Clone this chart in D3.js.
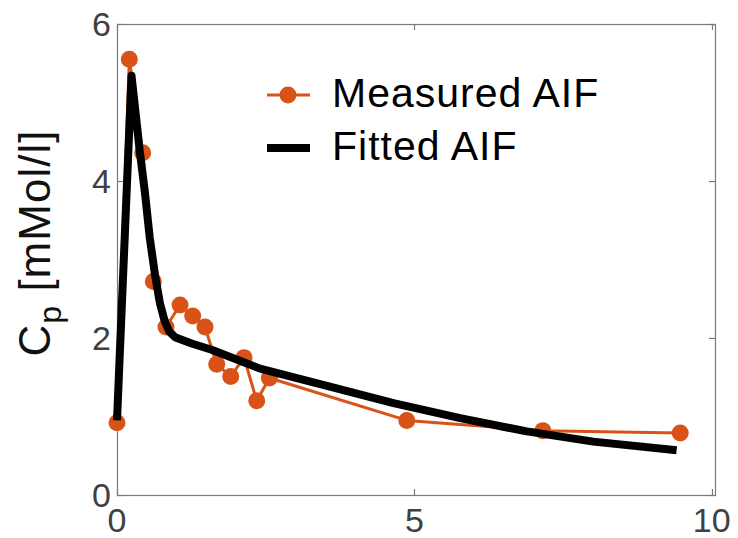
<!DOCTYPE html>
<html>
<head>
<meta charset="utf-8">
<script src="https://cdn.jsdelivr.net/npm/d3@7"></script>
<style>
  body { margin: 0; background: #fff; }
  svg { display: block; }
</style>
</head>
<body>
<script>
// measured arterial input function (time, concentration)
var measuredT = [0, 0.207, 0.432, 0.611, 0.824, 1.06, 1.273, 1.48, 1.677, 1.912, 2.136, 2.35, 2.562, 4.873, 7.16, 9.47];
var measuredC = [0.92, 5.55, 4.36, 2.72, 2.14, 2.42, 2.28, 2.14, 1.665, 1.51, 1.75, 1.20, 1.49, 0.95, 0.82, 0.79];

// fitted curve
var fittedT = [0, 0.244, 0.38, 0.47, 0.55, 0.64, 0.72, 0.80, 0.88, 0.975, 1.256, 1.59, 2.405, 3.53, 4.65, 5.77, 6.89, 8.01, 9.41];
var fittedC = [0.95, 5.34, 4.40, 3.85, 3.28, 2.80, 2.45, 2.22, 2.08, 2.01, 1.93, 1.85, 1.61, 1.39, 1.17, 0.98, 0.81, 0.68, 0.57];

var xTicks = [0, 5, 10];
var yTicks = [0, 2, 4, 6];
var legendLabels = ["Measured AIF", "Fitted AIF"];

var W = 738, H = 538;
var plotLeft = 117, plotRight = 715, plotTop = 24, plotBottom = 495;
var font = "'Liberation Sans', Arial, Helvetica, sans-serif";
var orange = "#D95319";
var axisColor = "#7a7a7a";
var tickText = "#404040";

var svg = d3.select("body").append("svg").attr("width", W).attr("height", H);

var x = d3.scaleLinear().domain([0, 10.055]).range([plotLeft, plotRight]);
var y = d3.scaleLinear().domain([0, 6]).range([plotBottom, plotTop]);

var measured = measuredT.map(function (t, i) { return {t: t, c: measuredC[i]}; });
var fitted = fittedT.map(function (t, i) { return {t: t, c: fittedC[i]}; });

// box
svg.append("rect")
    .attr("x", plotLeft + 0.5).attr("y", plotTop + 0.5)
    .attr("width", plotRight - plotLeft).attr("height", plotBottom - plotTop)
    .attr("fill", "none").attr("stroke", axisColor).attr("stroke-width", 1.2);

// ticks: bottom/left with labels, top/right mirrored, all pointing inward
var tickLen = 6;
var tk = svg.append("g").attr("stroke", axisColor).attr("stroke-width", 1.2);
xTicks.forEach(function (v) {
    var px = Math.round(x(v)) + 0.5;
    tk.append("line").attr("x1", px).attr("x2", px).attr("y1", plotBottom).attr("y2", plotBottom - tickLen);
    tk.append("line").attr("x1", px).attr("x2", px).attr("y1", plotTop).attr("y2", plotTop + tickLen);
});
yTicks.forEach(function (v) {
    var py = Math.round(y(v)) + 0.5;
    tk.append("line").attr("x1", plotLeft).attr("x2", plotLeft + tickLen).attr("y1", py).attr("y2", py);
    tk.append("line").attr("x1", plotRight).attr("x2", plotRight - tickLen).attr("y1", py).attr("y2", py);
});

svg.append("g").selectAll("text").data(xTicks).enter().append("text")
    .attr("x", function (d) { return x(d); })
    .attr("y", 532)
    .attr("text-anchor", "middle")
    .style("font-family", font).style("font-size", "34px").attr("fill", tickText)
    .text(function (d) { return d; });

svg.append("g").selectAll("text").data(yTicks).enter().append("text")
    .attr("x", 111)
    .attr("y", function (d) { return y(d) + 12; })
    .attr("text-anchor", "end")
    .style("font-family", font).style("font-size", "34px").attr("fill", tickText)
    .text(function (d) { return d; });

// y label
var yl = svg.append("text")
    .attr("transform", "translate(50,243) rotate(-90)")
    .attr("text-anchor", "middle")
    .style("font-family", font).style("font-size", "44px")
    .style("letter-spacing", "1px").attr("fill", "#111");
yl.append("tspan").text("C");
yl.append("tspan").attr("dy", 11).style("font-size", "32px").text("p");
yl.append("tspan").attr("dy", -11).text(" [mMol/l]");

// measured series
var line = d3.line().x(function (d) { return x(d.t); }).y(function (d) { return y(d.c); });

svg.append("path").datum(measured)
    .attr("d", line)
    .attr("fill", "none").attr("stroke", orange).attr("stroke-width", 3)
    .attr("stroke-linejoin", "round");

svg.append("g").selectAll("circle").data(measured).enter().append("circle")
    .attr("cx", function (d) { return x(d.t); })
    .attr("cy", function (d) { return y(d.c); })
    .attr("r", 8.5)
    .attr("fill", orange);

// fitted series
svg.append("path").datum(fitted)
    .attr("d", line)
    .attr("fill", "none").attr("stroke", "#000").attr("stroke-width", 8)
    .attr("stroke-linejoin", "round");

// legend
var lg = svg.append("g");
lg.append("line").attr("x1", 267).attr("x2", 310).attr("y1", 95).attr("y2", 95)
    .attr("stroke", orange).attr("stroke-width", 3);
lg.append("circle").attr("cx", 288).attr("cy", 95).attr("r", 8.5).attr("fill", orange);
lg.append("line").attr("x1", 267).attr("x2", 310).attr("y1", 148).attr("y2", 148)
    .attr("stroke", "#000").attr("stroke-width", 8);

lg.selectAll("text").data(legendLabels).enter().append("text")
    .attr("x", 332)
    .attr("y", function (d, i) { return i === 0 ? 107 : 160; })
    .style("font-family", font).style("font-size", "41px")
    .style("letter-spacing", "1px").attr("fill", "#000")
    .text(function (d) { return d; });
</script>
</body>
</html>
